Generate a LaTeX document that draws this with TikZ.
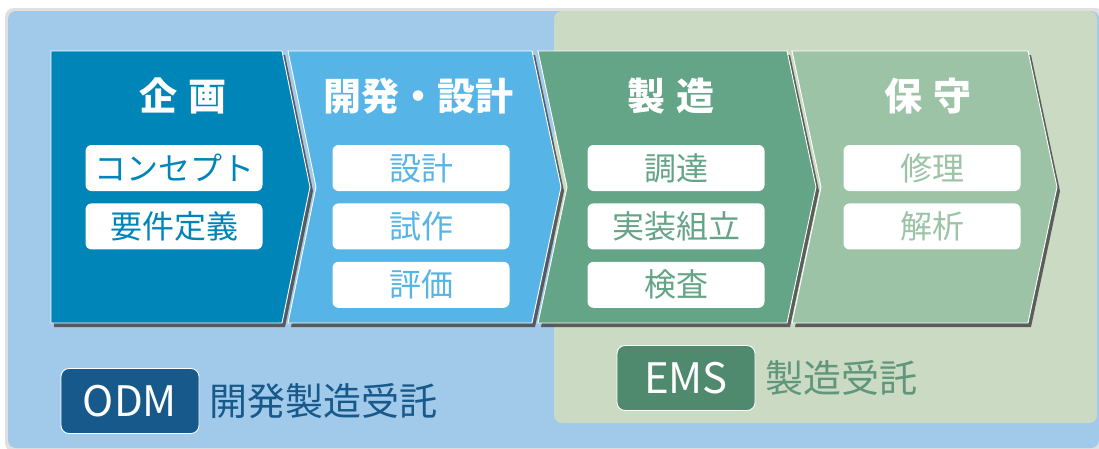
\documentclass[tikz,border=0pt]{standalone}
\usepackage{fontspec}
\setmainfont{Noto Sans CJK JP}
\usepackage{tikz}
\usetikzlibrary{positioning}

\definecolor{outerblue}{HTML}{A0C9EA}
\definecolor{outergreen}{HTML}{CBDBC3}
\definecolor{planblue}{HTML}{0085B8}
\definecolor{devblue}{HTML}{56B5E6}
\definecolor{makegreen}{HTML}{64A487}
\definecolor{caregreen}{HTML}{9CC3A5}
\definecolor{odmblue}{HTML}{17598A}
\definecolor{emsgreen}{HTML}{4F8A6F}

\begin{document}
\begin{tikzpicture}[x=1pt, y=-1pt,
                chev/.style={draw=white, line width=0.9pt}, % white edge of each stage
                chevshadow/.style={fill=black!72, draw=none, opacity=0.85}, % drop shadow
                stagetitle/.style={text=white, inner sep=0pt, font=\fontsize{38}{40}\selectfont\bfseries}, % stage name
                item/.style={fill=white, rounded corners=6pt, minimum width=177pt, minimum height=46pt, inner sep=0pt, font=\fontsize{32}{34}\selectfont}, % task box
                tag/.style={draw=white, line width=0.9pt, rounded corners=8pt, minimum width=138pt, minimum height=65pt, inner sep=0pt, text=white, font=\fontsize{42}{44}\selectfont}, % ODM / EMS
                taglabel/.style={inner sep=0pt, font=\fontsize{38}{40}\selectfont} % text beside the tag
                ]
                \useasboundingbox (0,0) rectangle (1099,448);
                % backgrounds
                \fill[black!12, rounded corners=9pt] (5,8) rectangle (1104,452);
                \fill[outerblue, rounded corners=8pt] (8,11) rectangle (1099,448);
                \fill[outergreen, rounded corners=8pt] (554,11) rectangle (1097,423);

                % shadows of the stages
                \begin{scope}[shift={(3,4)}]
                    \fill[chevshadow] (51,51) -- (282,51) -- (310,187) -- (282,323) -- (51,323) -- cycle;
                    \fill[chevshadow] (288,51) -- (532,51) -- (561,187) -- (532,323) -- (288,323) -- (316,187) -- cycle;
                    \fill[chevshadow] (538,51) -- (787,51) -- (816,187) -- (787,323) -- (538,323) -- (567,187) -- cycle;
                    \fill[chevshadow] (792,51) -- (1028,51) -- (1057,187) -- (1028,323) -- (792,323) -- (821,187) -- cycle;
                \end{scope}

                % stages
                \filldraw[chev, fill=planblue] (51,51) -- (282,51) -- (310,187) -- (282,323) -- (51,323) -- cycle;
                \filldraw[chev, fill=devblue] (288,51) -- (532,51) -- (561,187) -- (532,323) -- (288,323) -- (316,187) -- cycle;
                \filldraw[chev, fill=makegreen] (538,51) -- (787,51) -- (816,187) -- (787,323) -- (538,323) -- (567,187) -- cycle;
                \filldraw[chev, fill=caregreen] (792,51) -- (1028,51) -- (1057,187) -- (1028,323) -- (792,323) -- (821,187) -- cycle;

                % stage names
                \node[stagetitle] (plan) at (183,96) {企\hspace{.3em}画};
                \node[stagetitle] (dev) at (418,96) {開発・設計};
                \node[stagetitle] (make) at (671,96) {製\hspace{.3em}造};
                \node[stagetitle] (care) at (928,96) {保\hspace{.3em}守};

                % tasks
                \node[item, text=planblue] (plan1) at (174,168) {コンセプト};
                \node[item, text=planblue, below=12pt of plan1] (plan2) {要件定義};

                \node[item, text=devblue] (dev1) at (421,168) {設計};
                \node[item, text=devblue, below=12pt of dev1] (dev2) {試作};
                \node[item, text=devblue, below=12pt of dev2] (dev3) {評価};

                \node[item, text=makegreen] (make1) at (676,168) {調達};
                \node[item, text=makegreen, below=12pt of make1] (make2) {実装組立};
                \node[item, text=makegreen, below=12pt of make2] (make3) {検査};

                \node[item, text=caregreen] (care1) at (932,168) {修理};
                \node[item, text=caregreen, below=12pt of care1] (care2) {解析};

                % contract types
                \node[tag, fill=odmblue] (odm) at (130,401) {ODM};
                \node[taglabel, text=odmblue, right=10pt of odm] (odmtext) {開発製造受託};
                \node[tag, fill=emsgreen] (ems) at (686,378) {EMS};
                \node[taglabel, text=emsgreen!90!white, right=10pt of ems] (emstext) {製造受託};
            \end{tikzpicture}
\end{document}
